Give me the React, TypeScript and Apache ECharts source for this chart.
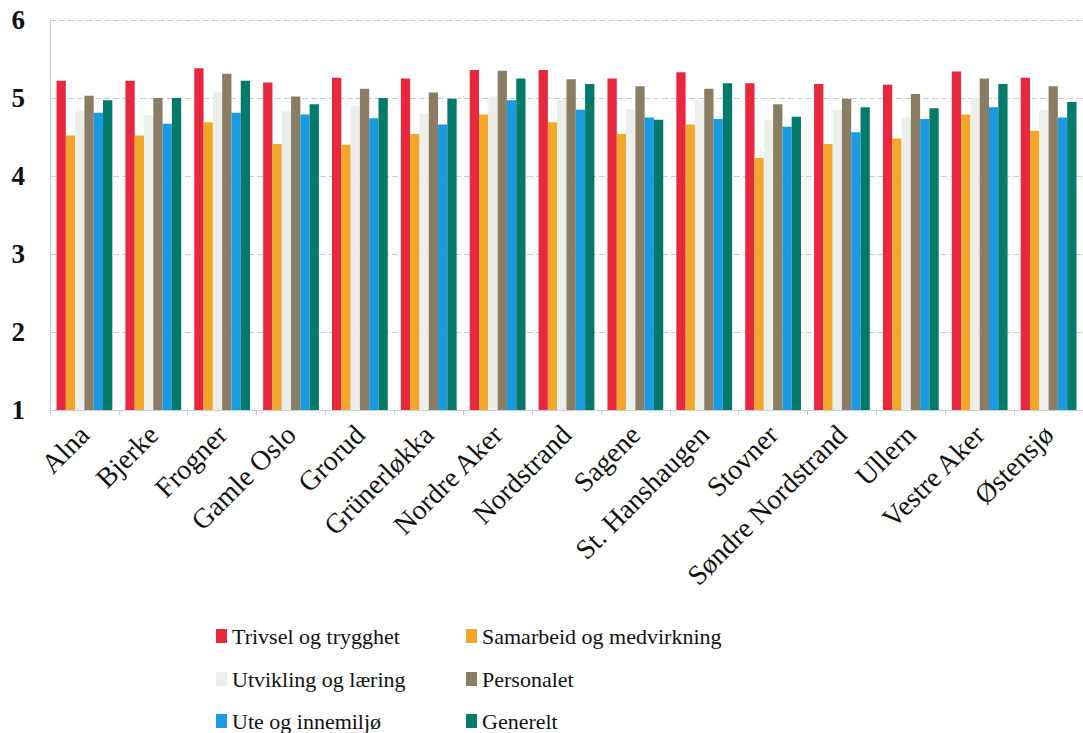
import React, { useEffect, useRef } from "react";
import * as echarts from "echarts";

const categories = [
  "Alna", "Bjerke", "Frogner", "Gamle Oslo", "Grorud", "Grünerløkka", "Nordre Aker",
  "Nordstrand", "Sagene", "St. Hanshaugen", "Stovner", "Søndre Nordstrand", "Ullern",
  "Vestre Aker", "Østensjø",
];

const seriesNames = [
  "Trivsel og trygghet",
  "Samarbeid og medvirkning",
  "Utvikling og læring",
  "Personalet",
  "Ute og innemiljø",
  "Generelt",
];

const trivsel = [5.22, 5.22, 5.38, 5.20, 5.26, 5.25, 5.36, 5.36, 5.25, 5.33, 5.19, 5.18, 5.17, 5.34, 5.26];
const samarbeid = [4.52, 4.52, 4.69, 4.41, 4.40, 4.54, 4.79, 4.69, 4.54, 4.66, 4.23, 4.41, 4.48, 4.79, 4.58];
const utvikling = [4.83, 4.78, 5.08, 4.83, 4.90, 4.80, 5.02, 4.97, 4.86, 4.97, 4.72, 4.85, 4.75, 5.00, 4.85];
const personalet = [5.03, 5.00, 5.31, 5.02, 5.12, 5.07, 5.35, 5.24, 5.15, 5.12, 4.92, 4.99, 5.05, 5.25, 5.15];
const uteInne = [4.81, 4.67, 4.81, 4.79, 4.74, 4.66, 4.97, 4.85, 4.75, 4.73, 4.63, 4.56, 4.73, 4.88, 4.75];
const generelt = [4.97, 5.00, 5.22, 4.92, 5.00, 4.99, 5.25, 5.18, 4.72, 5.19, 4.76, 4.88, 4.87, 5.18, 4.95];

const seriesValues = [trivsel, samarbeid, utvikling, personalet, uteInne, generelt];
const colors = ["#e8283f", "#f2a72a", "#eceeea", "#8b7d63", "#1b9ae2", "#047b6a"];

const FONT = "'Liberation Serif', 'Times New Roman', serif";

export default function App() {
  const ref = useRef<HTMLDivElement>(null);

  useEffect(() => {
    if (!ref.current) return;
    const chart = echarts.init(ref.current, undefined, { renderer: "svg" });

    const legendPos = [
      { left: 216, top: 625 },
      { left: 466, top: 625 },
      { left: 216, top: 668 },
      { left: 466, top: 668 },
      { left: 216, top: 710 },
      { left: 466, top: 710 },
    ];

    const legends = seriesNames.map((name, i) => ({
      data: [name],
      left: legendPos[i].left,
      top: legendPos[i].top,
      padding: 0,
      itemWidth: 11,
      itemHeight: 14,
      itemGap: 0,
      icon: "rect",
      selectedMode: false,
      textStyle: {
        fontFamily: FONT,
        fontSize: 22,
        color: "#111111",
        padding: [0, 0, 0, 0],
      },
    }));

    chart.setOption({
      animation: false,
      backgroundColor: "#ffffff",
      color: colors,
      legend: legends,
      grid: { left: 50, top: 20, right: -8, bottom: 323, containLabel: false },
      xAxis: {
        type: "category",
        data: categories,
        axisLine: { show: true, lineStyle: { color: "#c9ccd6", width: 1 } },
        axisTick: { show: true, alignWithLabel: false, length: 5, lineStyle: { color: "#c9ccd6" } },
        axisLabel: {
          rotate: 45,
          margin: 20,
          interval: 0,
          fontFamily: FONT,
          fontSize: 28,
          color: "#111111",
        },
      },
      yAxis: {
        type: "value",
        min: 1,
        max: 6,
        interval: 1,
        axisLine: { show: true, lineStyle: { color: "#c9ccd6", width: 1 } },
        axisTick: { show: false },
        splitLine: { show: true, lineStyle: { color: "#c9ccd6", width: 1, type: [6, 3] } },
        axisLabel: {
          margin: 25,
          fontFamily: FONT,
          fontSize: 27,
          fontWeight: "bold",
          color: "#111111",
        },
      },
      series: seriesNames.map((name, i) => ({
        name,
        type: "bar",
        data: seriesValues[i],
        barGap: "0%",
        barCategoryGap: "19%",
        itemStyle: { color: colors[i] },
      })),
    });

    return () => chart.dispose();
  }, []);

  return (
    <div
      ref={ref}
      style={{ position: "fixed", left: 0, top: 0, width: 1083, height: 733, background: "#fff" }}
    />
  );
}
